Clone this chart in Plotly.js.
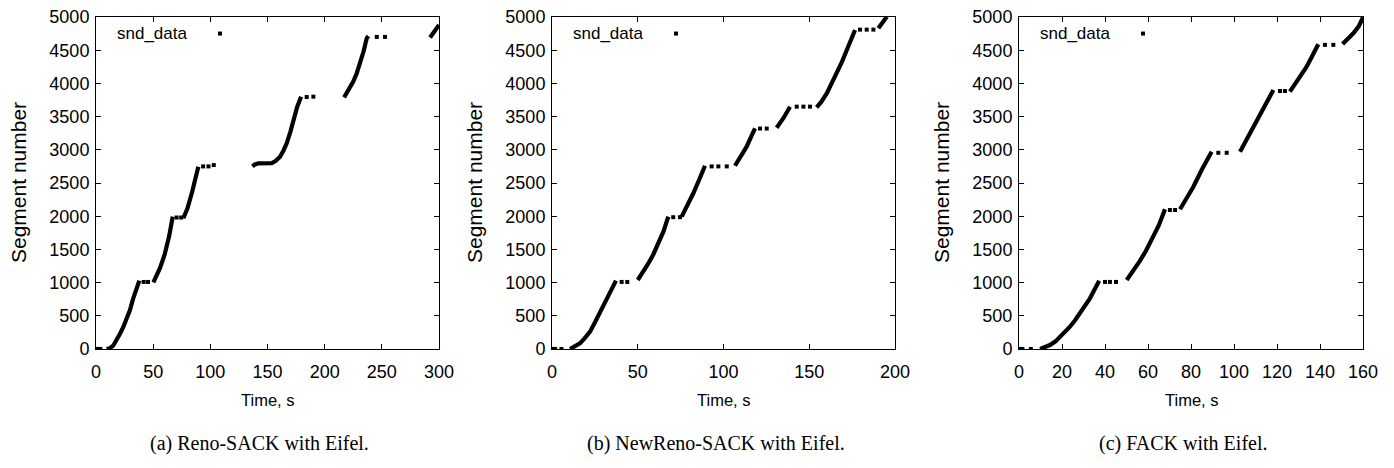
<!DOCTYPE html>
<html>
<head>
<meta charset="utf-8">
<script src="https://cdn.plot.ly/plotly-3.0.1.min.js"></script>
<style>
  html, body { margin: 0; padding: 0; background: #fff; }
  #chart { width: 1394px; height: 468px; }
</style>
</head>
<body>
<div id="chart"></div>
<script>
// ---------- Data ----------
// (a) Reno-SACK with Eifel: continuous runs (null separates runs)
const timeRunsA = [0, 5.5, null,
  9.3, 12, 15, 18, 21, 24, 27, 29.7, 32.5, 35.6, 37.9, null,
  50.2, 53, 56, 60, 64, 67.1, null,
  76.4, 80, 84, 87, 89.5, null,
  136.8, 139, 142, 149, 153.7, 157, 161, 164, 166.8, 170, 172.6, 176, 179.4, null,
  217, 221, 225, 228, 231, 234, 236.8, 238.2, null,
  292.2, 296, 300];
const segRunsA = [0, 0, null,
  0, 10, 50, 135, 230, 336, 460, 587, 760, 938, 1029, null,
  1004, 1100, 1220, 1420, 1700, 1993, null,
  1968, 2120, 2360, 2560, 2745, null,
  2750, 2780, 2797, 2797, 2800, 2830, 2896, 2990, 3098, 3270, 3449, 3650, 3800, null,
  3790, 3900, 4026, 4150, 4302, 4480, 4679, 4714, null,
  4690, 4780, 4880];
// (a) isolated dots
const timeDotsA = [41.7, 45.5, 70.5, 74.5, 93.7, 98.4, 103, 184.3, 190.1, 245.6, 252.8];
const segDotsA  = [1010, 1010, 1980, 1980, 2750, 2750, 2770, 3795, 3800, 4700, 4700];

// (b) NewReno-SACK with Eifel
const timeRunsB = [0, 3, null,
  10.5, 13, 16.3, 19, 22.2, 25, 28, 31, 33.8, 37.3, null,
  50, 53, 56, 59, 62, 65, 67.8, null,
  75.6, 79, 82.4, 86, 89.2, null,
  106.7, 110, 113.5, 116, 118.4, null,
  131, 135, 138.8, null,
  154.3, 157, 160.2, 163, 166, 169, 171.9, 174.5, 176.7, null,
  190.3, 192.8, 195.2];
const segRunsB = [0, 0, null,
  0, 30, 85, 160, 261, 400, 562, 710, 863, 1029, null,
  1039, 1150, 1280, 1420, 1580, 1770, 1993, null,
  1993, 2160, 2345, 2560, 2760, null,
  2760, 2900, 3047, 3190, 3323, null,
  3333, 3480, 3649, null,
  3639, 3720, 3850, 3990, 4152, 4320, 4503, 4660, 4804, null,
  4829, 4920, 5004];
const timeDotsB = [5.5, 40.6, 43.9, 70.7, 74.6, 93.1, 97, 101.9, 121.3, 125.2, 142.7, 146.6, 150.4, 179.6, 183.5, 187.4];
const segDotsB  = [0, 1010, 1010, 1985, 1985, 2750, 2750, 2750, 3320, 3320, 3650, 3650, 3650, 4810, 4810, 4810];

// (c) FACK with Eifel
const timeRunsC = [0, 2.5, null,
  9.8, 12, 14.4, 17, 19.1, 21.5, 23.7, 26, 28.4, 31, 33, 35.2, 37.3, null,
  50.1, 53, 56, 59, 62, 65, 67.9, null,
  74.9, 78, 81.1, 85, 89.6, null,
  102.8, 106.5, 110.5, 114.5, 118.3, null,
  126, 130, 133.8, 136.5, 139.2, null,
  150.5, 153, 155.5, 158, 160];
const segRunsC = [0, 0, null,
  0, 25, 60, 115, 185, 255, 336, 430, 537, 650, 763, 900, 1029, null,
  1039, 1170, 1315, 1475, 1655, 1860, 2104, null,
  2104, 2260, 2444, 2700, 2971, null,
  2971, 3200, 3449, 3680, 3900, null,
  3875, 4060, 4251, 4420, 4589, null,
  4593, 4670, 4754, 4860, 4995];
const timeDotsC = [5.5, 40, 42.3, 45.1, 70.2, 72.6, 92.7, 96.6, 121.4, 123.7, 142.3, 146.2];
const segDotsC  = [0, 1010, 1010, 1010, 2093, 2093, 2955, 2955, 3885, 3885, 4580, 4580];

const xRanges = [[0, 300], [0, 200], [0, 160]];
const xTickStep = [50, 50, 20];
const yTicks = [0, 500, 1000, 1500, 2000, 2500, 3000, 3500, 4000, 4500, 5000];
const seriesName = 'snd_data';
const captions = ['(a) Reno-SACK with Eifel.', '(b) NewReno-SACK with Eifel.', '(c) FACK with Eifel.'];
const xTitle = 'Time, s';
const yTitle = 'Segment number';

// ---------- Layout geometry ----------
const W = 1394, H = 468;
const plotPx = [[96, 439], [552, 895], [1019, 1363]];
const yTopPx = 17, yBotPx = 349;
const sans = 'Liberation Sans, Arial, sans-serif';
const serif = 'Liberation Serif, Times New Roman, serif';

const runs = [[timeRunsA, segRunsA], [timeRunsB, segRunsB], [timeRunsC, segRunsC]];
const dots = [[timeDotsA, segDotsA], [timeDotsB, segDotsB], [timeDotsC, segDotsC]];

const traces = [];
const layout = {
  width: W, height: H,
  margin: {l: 0, r: 0, t: 0, b: 0},
  paper_bgcolor: '#fff', plot_bgcolor: '#fff',
  font: {family: sans, size: 17, color: '#000'},
  showlegend: true,
  annotations: []
};

for (let i = 0; i < 3; i++) {
  const sfx = i === 0 ? '' : String(i + 1);
  const xa = 'x' + sfx, ya = 'y' + sfx;
  const legendId = 'legend' + sfx;
  traces.push({
    x: runs[i][0], y: runs[i][1], xaxis: xa, yaxis: ya,
    type: 'scatter', mode: 'lines', connectgaps: false,
    line: {color: '#000', width: 4.2},
    showlegend: false, hoverinfo: 'skip'
  });
  traces.push({
    x: dots[i][0], y: dots[i][1], xaxis: xa, yaxis: ya,
    type: 'scatter', mode: 'markers', name: ' ',
    marker: {color: '#000', symbol: 'square', size: 4},
    legend: legendId, showlegend: true
  });
  const d0 = plotPx[i][0] / W, d1 = plotPx[i][1] / W;
  const yd0 = (H - yBotPx) / H, yd1 = (H - yTopPx) / H;
  const axCommon = {
    showline: true, linecolor: '#000', linewidth: 1, mirror: 'ticks',
    ticks: 'inside', ticklen: 5, tickwidth: 1, tickcolor: '#000',
    showgrid: false, zeroline: false,
    tickfont: {family: sans, size: 18, color: '#000'}
  };
  layout['xaxis' + sfx] = Object.assign({}, axCommon, {
    domain: [d0, d1], anchor: ya, range: xRanges[i],
    tickmode: 'linear', tick0: 0, dtick: xTickStep[i],
    ticklabelstandoff: 6
  });
  layout['yaxis' + sfx] = Object.assign({}, axCommon, {
    domain: [yd0, yd1], anchor: xa, range: [0, 5000],
    tickmode: 'array', tickvals: yTicks, ticktext: yTicks.map(String),
    ticklabelstandoff: 2
  });
  layout[legendId] = {
    x: (plotPx[i][0] + 104) / W, y: (H - 34) / H, xanchor: 'left', yanchor: 'middle',
    bgcolor: 'rgba(0,0,0,0)', borderwidth: 0, font: {size: 17}
  };
  layout.annotations.push({
    xref: 'paper', yref: 'paper', x: (plotPx[i][0] + 19) / W, y: (H - 34) / H,
    xanchor: 'left', yanchor: 'middle', showarrow: false,
    text: seriesName, font: {family: sans, size: 17, color: '#000'}
  });
  // axis titles
  layout.annotations.push({
    xref: 'paper', yref: 'paper', x: ((plotPx[i][0] + plotPx[i][1]) / 2) / W, y: (H - 400) / H,
    xanchor: 'center', yanchor: 'middle', showarrow: false,
    text: xTitle, font: {family: sans, size: 16.5, color: '#000'}
  });
  layout.annotations.push({
    xref: 'paper', yref: 'paper', x: (plotPx[i][0] - 78) / W, y: (H - (yTopPx + yBotPx) / 2) / H,
    xanchor: 'center', yanchor: 'middle', showarrow: false, textangle: -90,
    text: yTitle, font: {family: sans, size: 21, color: '#000'}
  });
  // caption
  layout.annotations.push({
    xref: 'paper', yref: 'paper', x: ((plotPx[i][0] + plotPx[i][1]) / 2 - 8) / W, y: (H - 443) / H,
    xanchor: 'center', yanchor: 'middle', showarrow: false,
    text: captions[i], font: {family: serif, size: 20, color: '#000'}
  });
}

Plotly.newPlot('chart', traces, layout, {displayModeBar: false, staticPlot: true});
</script>
</body>
</html>
